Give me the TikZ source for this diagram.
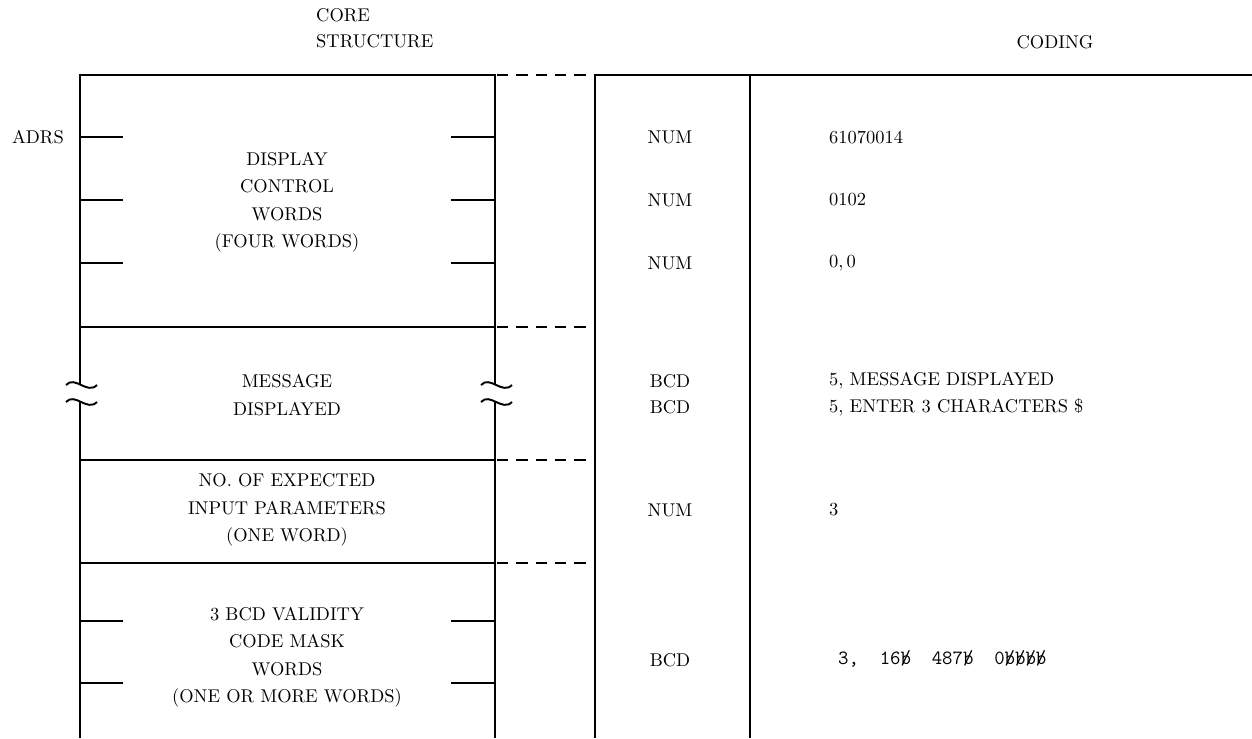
\documentclass[tikz,border=0pt]{standalone}
\usepackage{tikz}
\usetikzlibrary{calc}
\newcommand\bblank{\ooalign{b\cr\hidewidth/\hidewidth}}
\tikzset{
  frame line/.style={line width=1.1pt,draw=black},
  link dash/.style={line width=1.1pt,dash pattern=on 6.5pt off 4.5pt},
  core text/.style={align=center,font=\fontsize{10.5}{15.6}\selectfont},
  field text/.style={font=\fontsize{10.5}{13}\selectfont},
  code text/.style={anchor=west,font=\fontsize{10.5}{13}\selectfont},
  head text/.style={font=\fontsize{10.5}{15}\selectfont}
}
\begin{document}
\begin{tikzpicture}[x=.02cm,y=-.02cm]
  \useasboundingbox (0,0) rectangle (1252,738);
  % headings
  \node[head text,align=left,anchor=west] (corehead) at (310,28) {CORE\\STRUCTURE};
  \node[head text] (codehead) at (1055,42) {CODING};
  \node[head text,anchor=east] (adrs) at (70,137) {ADRS};
  % core structure
  \draw[frame line] (80,738) -- (80,402) (80,385) -- (80,75) -- (495,75) -- (495,385) (495,402) -- (495,738);
  \foreach \x in {80,495}
    \foreach \y in {385,402}
      \draw[frame line] (\x-14,\y) .. controls (\x-5,\y-10) and (\x+7,\y+10) .. (\x+17,\y);
  \foreach \y in {327,460,563}
    \draw[frame line] (80,\y) -- (495,\y);
  \foreach \y in {137,200,263,621,683} {
    \draw[frame line] (80,\y) -- (123,\y);
    \draw[frame line] (451,\y) -- (495,\y);
  }
  \foreach \y in {75,327,460,563}
    \draw[link dash] (497,\y) -- (595,\y);
  \node[core text] (dispwords) at (287,202) {DISPLAY\\CONTROL\\WORDS\\(FOUR WORDS)};
  \node[core text] (message) at (287,395) {MESSAGE\\DISPLAYED};
  \node[core text] (expected) at (287,510) {NO. OF EXPECTED\\INPUT PARAMETERS\\(ONE WORD)};
  \node[core text] (masks) at (287,657) {3 BCD VALIDITY\\CODE MASK\\WORDS\\(ONE OR MORE WORDS)};
  % coding
  \draw[frame line] (595,738) -- (595,75) -- (1252,75);
  \draw[frame line] (750,75) -- (750,738);
  \node[field text] (numa) at (670,137) {NUM};
  \node[field text] (numb) at (670,200) {NUM};
  \node[field text] (numc) at (670,263) {NUM};
  \node[field text] (bcda) at (670,381) {BCD};
  \node[field text] (bcdb) at (670,407) {BCD};
  \node[field text] (numd) at (670,510) {NUM};
  \node[field text] (bcdc) at (670,660) {BCD};
  \node[code text] (codea) at (823,137) {61070014};
  \node[code text] (codeb) at (823,200) {0102};
  \node[code text] (codec) at (823,263) {0,\,0};
  \node[code text] (coded) at (823,381) {5, MESSAGE DISPLAYED};
  \node[code text] (codee) at (823,407) {5, ENTER 3 CHARACTERS \$};
  \node[code text] (codef) at (823,510) {3};
  \node[code text,font=\fontsize{11.5}{14}\ttfamily] (codeg) at (832,660) {3,\ \ 16\bblank\ \ 487\bblank\ \ 0\bblank\bblank\bblank\bblank};
\end{tikzpicture}
\end{document}
